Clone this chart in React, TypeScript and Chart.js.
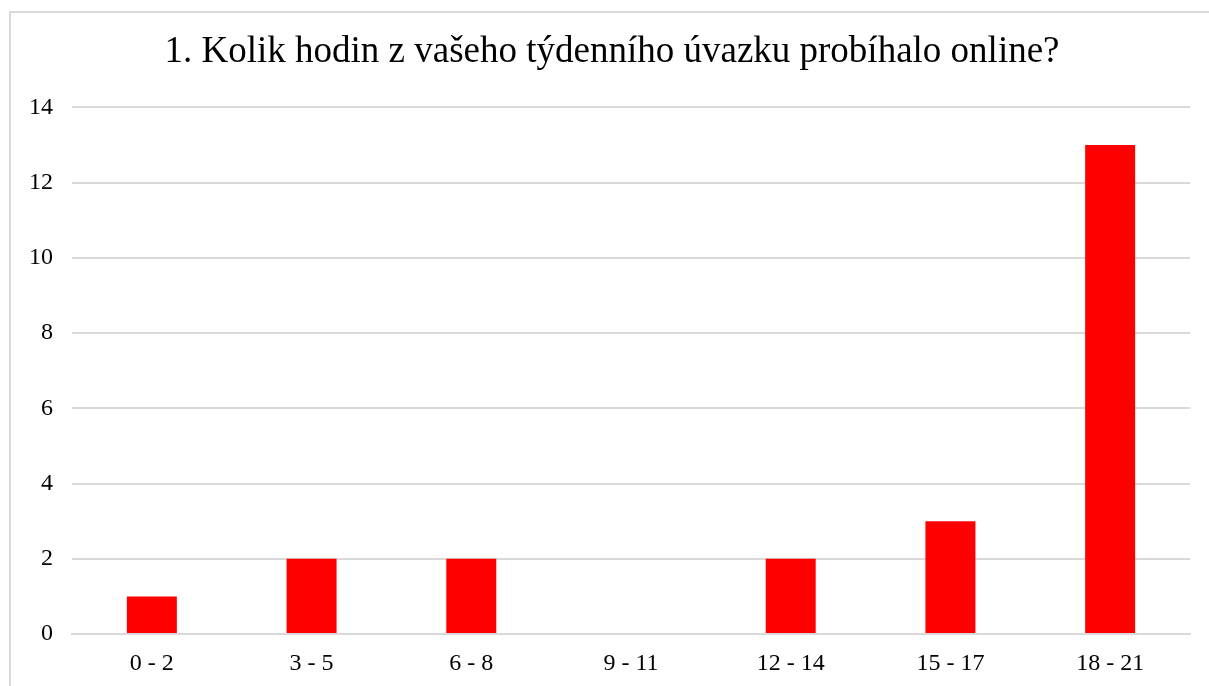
import React, { useEffect, useRef } from "react";
import { Chart, registerables } from "chart.js";

Chart.register(...registerables);

const title = "1. Kolik hodin z vašeho týdenního úvazku probíhalo online?";
const categories = ["0 - 2", "3 - 5", "6 - 8", "9 - 11", "12 - 14", "15 - 17", "18 - 21"];
const counts = [1, 2, 2, 0, 2, 3, 13];
const yMin = 0;
const yMax = 14;
const yStep = 2;

export default function App() {
  const ref = useRef<HTMLCanvasElement | null>(null);
  useEffect(() => {
    document.body.style.overflow = "hidden";
    const ctx = ref.current!;
    const font = "'Liberation Serif', 'Times New Roman', serif";
    const chart = new Chart(ctx, {
      type: "bar",
      data: {
        labels: categories,
        datasets: [
          {
            data: counts,
            backgroundColor: "#ff0000",
            borderWidth: 0,
            barPercentage: 0.313,
            categoryPercentage: 1,
          },
        ],
      },
      options: {
        animation: false,
        responsive: false,
        devicePixelRatio: 1,
        layout: { padding: { left: 0, right: 0, top: 0, bottom: 0 } },
        plugins: {
          legend: { display: false },
          tooltip: { enabled: false },
          title: {
            display: true,
            text: title,
            color: "#000000",
            font: { family: font, size: 37, weight: "normal" },
            padding: { top: 17, bottom: 33 },
          },
        },
        scales: {
          x: {
            grid: { display: false, drawTicks: false },
            border: { display: true, color: "#d9d9d9", width: 2 },
            ticks: { color: "#000000", font: { family: font, size: 24 }, padding: 15 },
            afterFit: (s: any) => {
              s.height = 52;
            },
          },
          y: {
            min: yMin,
            max: yMax,
            ticks: {
              stepSize: yStep,
              color: "#000000",
              font: { family: font, size: 24 },
              padding: 19,
            },
            grid: { color: "#d9d9d9", lineWidth: 2, drawTicks: false },
            border: { display: false },
            afterFit: (s: any) => {
              s.width = 61;
            },
          },
          yRight: {
            position: "right",
            min: yMin,
            max: yMax,
            ticks: { display: false },
            grid: { display: false, drawTicks: false },
            border: { display: false },
            afterFit: (s: any) => {
              s.width = 23;
            },
          },
        },
      },
    });
    return () => chart.destroy();
  }, []);
  return (
    <div
      style={{
        position: "fixed",
        left: 9,
        top: 11,
        width: 1240,
        height: 700,
        border: "2px solid #d9d9d9",
        background: "#ffffff",
      }}
    >
      <canvas ref={ref} width={1202} height={673} style={{ display: "block" }} />
    </div>
  );
}
